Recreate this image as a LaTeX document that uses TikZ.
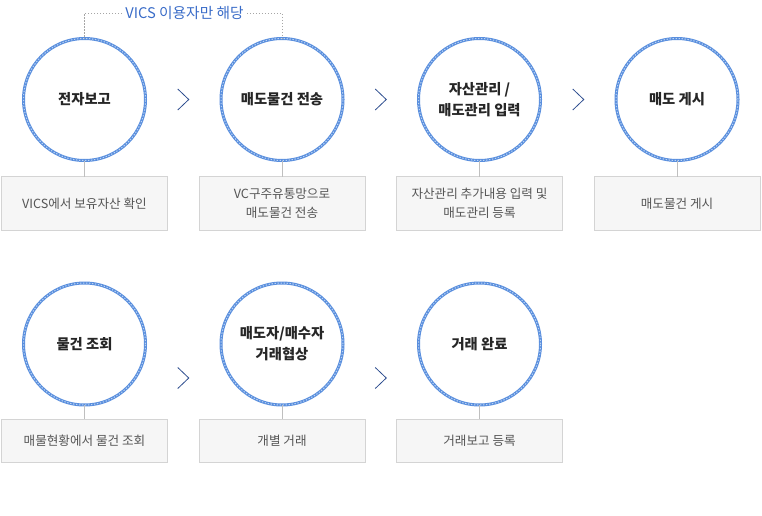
\documentclass[tikz,border=0pt]{standalone}
\usepackage{fontspec}
\setmainfont{Noto Sans CJK KR}
\usetikzlibrary{positioning, calc}

\definecolor{ropeblue}{HTML}{5A8FDE}
\definecolor{ropelight}{HTML}{BCD4F3}
\definecolor{boxfill}{HTML}{F6F6F6}
\definecolor{boxline}{HTML}{D4D4D4}
\definecolor{boxtext}{HTML}{555555}
\definecolor{notetext}{HTML}{3A6CC8}
\definecolor{chevblue}{HTML}{2C4C8E}

\tikzset{
  stage/.style={circle, draw=ropeblue, line width=3pt, minimum size=122pt,
    inner sep=0pt, outer sep=0pt, align=center, text=black!85,
    font=\fontsize{14.3}{21}\selectfont\bfseries,
    postaction={draw=ropelight, line width=1pt, dash pattern=on 1.3pt off 1.7pt}},
  infobox/.style={rectangle, draw=boxline, fill=boxfill, minimum width=166pt,
    inner sep=0pt, outer sep=0pt, align=center, text=boxtext,
    font=\fontsize{12.6}{18.5}\selectfont},
  link/.style={draw=black!25, line width=0.8pt},
  bracket/.style={draw=black!35, line width=0.8pt, dash pattern=on 1.5pt off 1.5pt},
  chev/.style={draw=chevblue, line width=0.8pt}
}

\begin{document}
\begin{tikzpicture}[x=1pt, y=-1pt]
    \useasboundingbox (0,0) rectangle (762,516);

    % first row
    \node [stage] (c1) at (84.5,99.5) {전자보고};%
    \node [stage, right=75.5pt of c1] (c2) {매도물건 전송};%
    \node [stage, right=75.5pt of c2] (c3) {자산관리 /\\매도관리 입력};%
    \node [stage, right=75.5pt of c3] (c4) {매도 게시};%

    \node [infobox, below=16pt of c1, minimum height=54pt] (b1)
    {VICS에서 보유자산 확인};%
    \node [infobox, below=16pt of c2, minimum height=54pt] (b2)
    {VC구주유통망으로\\매도물건 전송};%
    \node [infobox, below=16pt of c3, minimum height=54pt] (b3)
    {자산관리 추가내용 입력 및\\매도관리 등록};%
    \node [infobox, below=16pt of c4, minimum height=54pt] (b4)
    {매도물건 게시};%

    % second row
    \node [stage] (c5) at (84.5,344) {물건 조회};%
    \node [stage, right=75.5pt of c5] (c6) {매도자/매수자\\거래협상};%
    \node [stage, right=75.5pt of c6] (c7) {거래 완료};%

    \node [infobox, below=14pt of c5, minimum height=43pt] (b5)
    {매물현황에서 물건 조회};%
    \node [infobox, below=14pt of c6, minimum height=43pt] (b6) {개별 거래};%
    \node [infobox, below=14pt of c7, minimum height=43pt] (b7) {거래보고 등록};%

    % links
    \foreach \i in {1,...,7}
      \draw [link] (c\i.south) -- (b\i.north);

    % VICS note
    \node [text=notetext, font=\fontsize{14.7}{16}\selectfont, inner sep=3pt]
    (vics) at (184.5,13) {VICS 이용자만 해당};%
    \draw [bracket] (vics.west) -| (c1.north);%
    \draw [bracket] (vics.east) -| (c2.north);%

    % chevrons
    \coordinate (m12) at ($(c1.east)!0.5!(c2.west)$);
    \coordinate (m23) at ($(c2.east)!0.5!(c3.west)$);
    \coordinate (m34) at ($(c3.east)!0.5!(c4.west)$);
    \coordinate (m56) at ($(c5.east)!0.5!(c6.west)+(0,34)$);
    \coordinate (m67) at ($(c6.east)!0.5!(c7.west)+(0,34)$);
    \foreach \m in {m12,m23,m34,m56,m67}
      \draw [chev] ([shift={(-5.5,-10.5)}]\m) -- ++(11,10.5) -- ++(-11,10.5);
\end{tikzpicture}
\end{document}
